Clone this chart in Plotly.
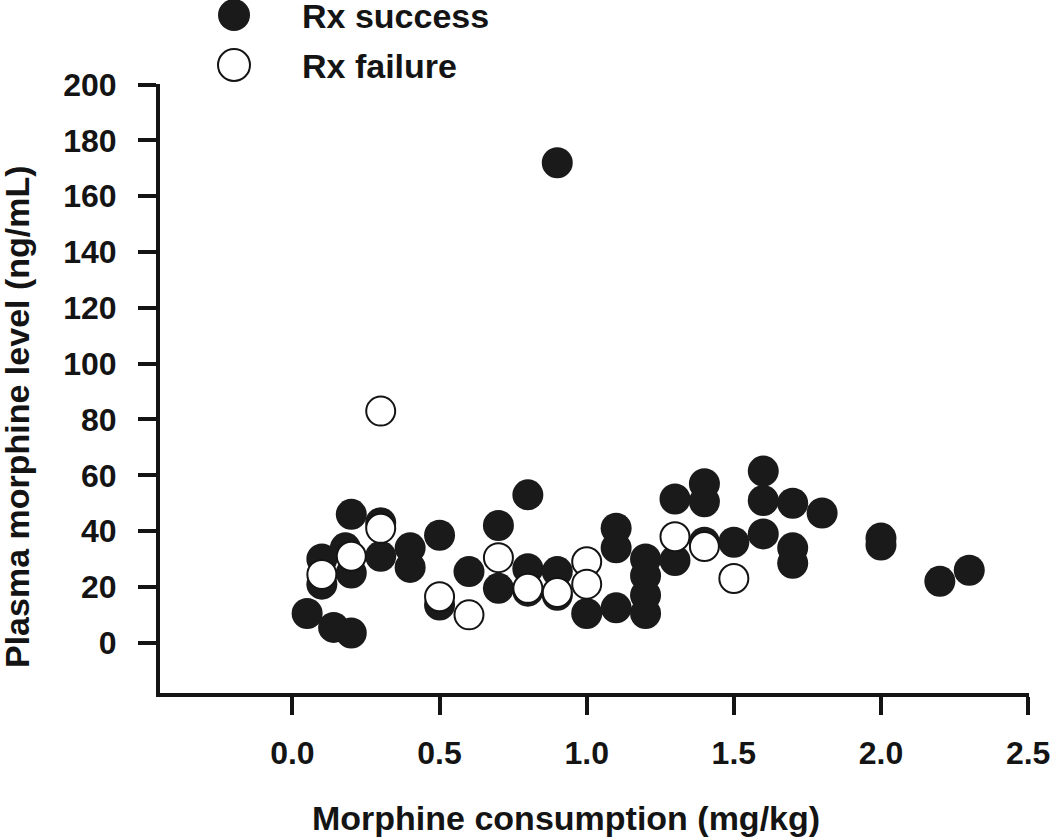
import plotly.graph_objects as go

# ---- data ----
success_x = [0.05, 0.1, 0.1, 0.14, 0.18, 0.2, 0.2, 0.2, 0.3, 0.3, 0.4, 0.4, 0.5, 0.5,
             0.6, 0.7, 0.7, 0.8, 0.8, 0.8, 0.9, 0.9, 0.9, 1.0, 1.1, 1.1, 1.1,
             1.2, 1.2, 1.2, 1.2, 1.3, 1.3, 1.4, 1.4, 1.4, 1.5, 1.6, 1.6, 1.6,
             1.7, 1.7, 1.7, 1.8, 2.0, 2.0, 2.2, 2.3]
success_y = [10.5, 30, 21, 5.5, 34, 25, 3.5, 46, 43, 31, 34, 27, 38.5, 13.5,
             25.5, 42, 19.5, 53, 26.5, 18.5, 172, 25.5, 17, 10.5, 41, 34, 12.5,
             30, 24, 17, 10.5, 51.5, 29.5, 57, 50.5, 36, 36, 61.5, 51, 39,
             50, 34, 28.5, 46.5, 37.5, 35, 22, 26]

failure_x = [0.1, 0.2, 0.3, 0.3, 0.5, 0.6, 0.7, 0.8, 0.9, 1.0, 1.0, 1.3, 1.4, 1.5]
failure_y = [24.5, 31, 83, 41, 16.5, 10, 30.5, 19.5, 18, 29, 21, 38, 34.5, 23]

series_names = ["Rx success", "Rx failure"]
x_ticks = [0.0, 0.5, 1.0, 1.5, 2.0, 2.5]
x_ticklabels = ["0.0", "0.5", "1.0", "1.5", "2.0", "2.5"]
y_ticks = [0, 20, 40, 60, 80, 100, 120, 140, 160, 180, 200]
x_title = "Morphine consumption (mg/kg)"
y_title = "Plasma morphine level (ng/mL)"

# ---- style ----
FONT = "Liberation Sans, Arial, sans-serif"
INK = "#141414"
W, H = 1050, 840
ML, MR, MT, MB = 160, 21, 84, 147
PW, PH = W - ML - MR, H - MT - MB


def px2paper_x(px):
    return (px - ML) / PW


def px2paper_y(py):
    return (H - MB - py) / PH


fig = go.Figure()
fig.add_trace(go.Scatter(
    x=success_x, y=success_y, mode="markers", name=series_names[0],
    marker=dict(size=31, color="#1a1a1a", line=dict(width=0)),
    showlegend=False,
))
fig.add_trace(go.Scatter(
    x=failure_x, y=failure_y, mode="markers", name=series_names[1],
    marker=dict(size=29, color="white", line=dict(width=2, color=INK)),
    showlegend=False,
))

axis_common = dict(
    showline=True, linewidth=4, linecolor=INK,
    ticks="outside", ticklen=18, tickwidth=4, tickcolor=INK,
    showgrid=False, zeroline=False,
    tickfont=dict(family=FONT, size=32, color=INK, weight="bold"),
    automargin=False, ticklabeloverflow="allow",
)

fig.update_xaxes(range=[-0.45, 2.503], tickvals=x_ticks, ticktext=x_ticklabels,
                 ticklabelstandoff=11, **axis_common)
fig.update_yaxes(range=[-18, 200.2], tickvals=y_ticks, ticklabelstandoff=15,
                 **axis_common)

annotations = [
    dict(text=x_title, xref="paper", yref="paper",
         x=px2paper_x(566), y=px2paper_y(818), xanchor="center", yanchor="middle",
         showarrow=False, font=dict(family=FONT, size=34, color=INK, weight="bold")),
    dict(text=y_title, xref="paper", yref="paper", textangle=-90,
         x=px2paper_x(17), y=px2paper_y(417), xanchor="center", yanchor="middle",
         showarrow=False, font=dict(family=FONT, size=34, color=INK, weight="bold")),
]

# legend (drawn as layout decoration to keep the large symbols)
legend_rows = [(series_names[0], 15, "#1a1a1a", 0), (series_names[1], 65, "white", 2)]
shapes = []
for name, cy, fill, lw in legend_rows:
    shapes.append(dict(
        type="circle", xref="paper", yref="paper",
        xsizemode="pixel", ysizemode="pixel",
        xanchor=px2paper_x(234), yanchor=px2paper_y(cy),
        x0=-16, x1=16, y0=-16, y1=16,
        fillcolor=fill, line=dict(color=INK, width=lw),
    ))
    annotations.append(dict(
        text=name, xref="paper", yref="paper",
        x=px2paper_x(300), y=px2paper_y(cy + 1), xanchor="left", yanchor="middle",
        showarrow=False, font=dict(family=FONT, size=34, color=INK, weight="bold")))

fig.update_layout(
    width=W, height=H,
    margin=dict(l=ML, r=MR, t=MT, b=MB),
    plot_bgcolor="white", paper_bgcolor="white",
    showlegend=False,
    annotations=annotations,
    shapes=shapes,
)

fig.write_html("out.html", config={"displayModeBar": False},
               post_script="document.body.style.margin='0';document.body.style.overflow='hidden';")
